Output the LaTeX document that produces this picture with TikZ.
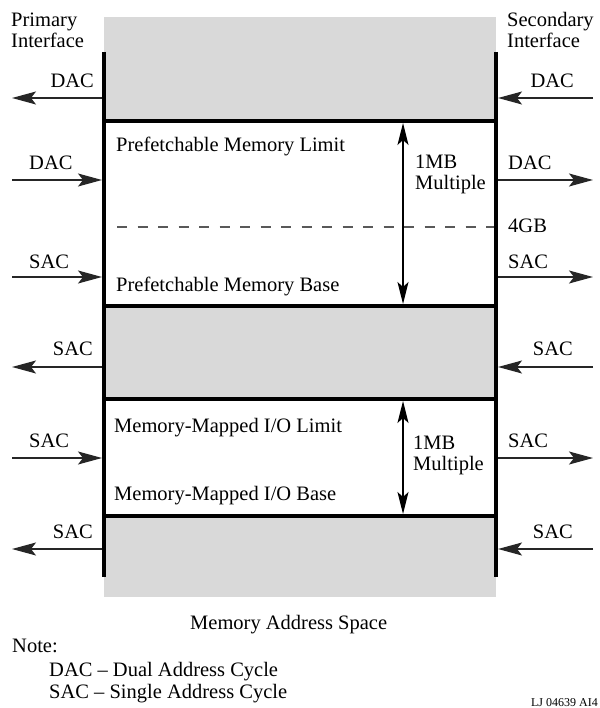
\documentclass[tikz,border=0pt]{standalone}
\usepackage{fontspec}
\setmainfont{Liberation Serif}
\usetikzlibrary{arrows.meta}
\tikzset{l/.style={font=\fontsize{20.5}{22}\selectfont, inner sep=0pt}}
\tikzset{m/.style={font=\fontsize{12}{12}\selectfont, inner sep=0pt}}
\tikzset{wall/.style={line width=4.2pt}}
\tikzset{sig/.style={line width=1.3pt, draw=black!85, -{Stealth[length=24pt,width=13pt,inset=5pt]}}}
\tikzset{span/.style={line width=1.3pt, {Stealth[length=22pt,width=11pt,inset=5pt]}-{Stealth[length=22pt,width=11pt,inset=5pt]}}}
\definecolor{bandgray}{HTML}{D9D9D9}

\begin{document}
\begin{tikzpicture}[x=1pt, y=-1pt]
    \useasboundingbox (0,0) rectangle (599,708);
    % address space
    \fill[bandgray] (104,17) rectangle (496,597);
    \fill[white] (104,121) rectangle (496,306);
    \fill[white] (104,399) rectangle (496,516);
    \coordinate (pt) at (104,52);
    \coordinate (pb) at (104,577);
    \coordinate (st) at (496,52);
    \coordinate (sb) at (496,577);
    \draw[wall] (pt) -- (pb);
    \draw[wall] (st) -- (sb);
    \coordinate (w1l) at (102,121); \coordinate (w1r) at (498,121);
    \coordinate (w2l) at (102,306); \coordinate (w2r) at (498,306);
    \coordinate (w3l) at (102,399); \coordinate (w3r) at (498,399);
    \coordinate (w4l) at (102,516); \coordinate (w4r) at (498,516);
    \draw[wall] (w1l) -- (w1r);
    \draw[wall] (w2l) -- (w2r);
    \draw[wall] (w3l) -- (w3r);
    \draw[wall] (w4l) -- (w4r);
    \coordinate (gl) at (117,227);
    \coordinate (gr) at (494,227);
    \draw[gray!70!black, line width=1.3pt, dash pattern=on 10pt off 10.5pt] (gl) -- (gr);
    % spans
    \coordinate (a1) at (403,123); \coordinate (a2) at (403,304);
    \coordinate (b1) at (403,401); \coordinate (b2) at (403,514);
    \draw[span] (a1) -- (a2);
    \draw[span] (b1) -- (b2);
    % primary side
    \coordinate (p1) at (102,98);  \coordinate (q1) at (12,98);
    \coordinate (p2) at (102,180); \coordinate (q2) at (12,180);
    \coordinate (p3) at (102,277); \coordinate (q3) at (12,277);
    \coordinate (p4) at (102,367); \coordinate (q4) at (12,367);
    \coordinate (p5) at (102,458); \coordinate (q5) at (12,458);
    \coordinate (p6) at (102,549); \coordinate (q6) at (12,549);
    \draw[sig] (p1) -- (q1);
    \draw[sig] (q2) -- (p2);
    \draw[sig] (q3) -- (p3);
    \draw[sig] (p4) -- (q4);
    \draw[sig] (q5) -- (p5);
    \draw[sig] (p6) -- (q6);
    % secondary side
    \coordinate (s1) at (498,98);  \coordinate (t1) at (593,98);
    \coordinate (s2) at (498,180); \coordinate (t2) at (593,180);
    \coordinate (s3) at (498,277); \coordinate (t3) at (593,277);
    \coordinate (s4) at (498,367); \coordinate (t4) at (593,367);
    \coordinate (s5) at (498,458); \coordinate (t5) at (593,458);
    \coordinate (s6) at (498,549); \coordinate (t6) at (593,549);
    \draw[sig] (t1) -- (s1);
    \draw[sig] (s2) -- (t2);
    \draw[sig] (s3) -- (t3);
    \draw[sig] (t4) -- (s4);
    \draw[sig] (s5) -- (t5);
    \draw[sig] (t6) -- (s6);
    % labels
    \node[l, anchor=base east] (lp1) at (94,88) {DAC};
    \node[l, anchor=base west] (lp2) at (29,170) {DAC};
    \node[l, anchor=base west] (lp3) at (29,268) {SAC};
    \node[l, anchor=base east] (lp4) at (93,355) {SAC};
    \node[l, anchor=base west] (lp5) at (29,447) {SAC};
    \node[l, anchor=base east] (lp6) at (93,538) {SAC};
    \node[l, anchor=base east] (ls1) at (574,88) {DAC};
    \node[l, anchor=base west] (ls2) at (508,170) {DAC};
    \node[l, anchor=base west] (ls3) at (508,268) {SAC};
    \node[l, anchor=base east] (ls4) at (573,355) {SAC};
    \node[l, anchor=base west] (ls5) at (508,447) {SAC};
    \node[l, anchor=base east] (ls6) at (573,538) {SAC};
    \node[l, anchor=base west] (four) at (508,233) {4GB};
    \node[l, anchor=base west] (prim1) at (11,27) {Primary};
    \node[l, anchor=base west] (prim2) at (11,48) {Interface};
    \node[l, anchor=base west] (sec1) at (507,27) {Secondary};
    \node[l, anchor=base west] (sec2) at (507,48) {Interface};
    \node[l, anchor=base west] (pfl) at (116,152) {Prefetchable Memory Limit};
    \node[l, anchor=base west] (pfb) at (116,291) {Prefetchable Memory Base};
    \node[l, anchor=base west] (mb1a) at (415,169) {1MB};
    \node[l, anchor=base west] (mb1b) at (415,190) {Multiple};
    \node[l, anchor=base west] (iol) at (114,432) {Memory-Mapped I/O Limit};
    \node[l, anchor=base west] (iob) at (114,500) {Memory-Mapped I/O Base};
    \node[l, anchor=base west] (mb2a) at (413,449) {1MB};
    \node[l, anchor=base west] (mb2b) at (413,470) {Multiple};
    \node[l, anchor=base west] (mas) at (190,629) {Memory Address Space};
    \node[l, anchor=base west] (note) at (12,652) {Note:};
    \node[l, anchor=base west] (dac) at (49,676) {DAC -- Dual Address Cycle};
    \node[l, anchor=base west] (sac) at (49,698) {SAC -- Single Address Cycle};
    \node[m, anchor=base east] (tag) at (598,706) {LJ 04639 AI4};
\end{tikzpicture}
\end{document}
